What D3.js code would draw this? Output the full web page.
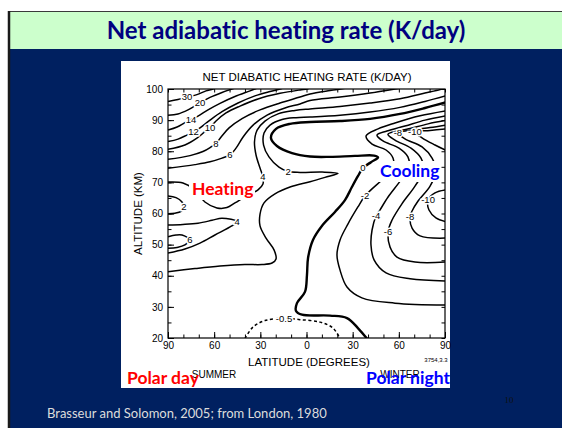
<!DOCTYPE html>
<html>
<head>
<meta charset="utf-8">
<script src="https://cdn.jsdelivr.net/npm/d3@7"></script>
<style>
  body { margin: 0; background: #fff; }
  svg { display: block; }
  text { font-variant-ligatures: none; }
</style>
</head>
<body>
<svg id="slide" width="562" height="428"></svg>
<script>
// ---- axis ticks ----
const latTicks = [-90, -60, -30, 0, 30, 60, 90];
const latMinor = d3.range(-90, 91, 10);
const altTicks = [20, 30, 40, 50, 60, 70, 80, 90, 100];
const altMinor = d3.range(20, 101, 5);

// ---- contour lines: [latitude (summer < 0 < winter), altitude km] ----
const c30 = [[-90,96],[-83.5,96.6],[-77.7,97.4],[-71.2,98.2],[-65.3,99.4],[-60.8,100],[-58,100.8]];
const c20 = [[-90,91.6],[-83.5,92],[-77,93.3],[-69.2,95.5],[-62.7,97.3],[-54.9,98.9],[-46.5,100.3]];
const c14 = [[-90,86.8],[-84.1,87.8],[-79,89.2],[-75,90.2],[-70.5,91.3],[-64,93.3],[-56.2,95.4],[-46.5,97.6],[-36.7,99.4],[-31.5,100.4]];
const c12 = [[-90,83.1],[-83.5,83.9],[-77.7,85.2],[-73.4,86.2],[-69.2,87.5],[-62.7,90],[-54.9,92.7],[-44.5,95.5],[-33.5,97.8],[-23.7,99.2],[-17.2,100],[-14,100.5]];
const c10 = [[-90,80.6],[-79,82],[-71.2,84.2],[-66,86.3],[-62.7,87.6],[-58.8,89.7],[-52.3,92.3],[-43.2,94.5],[-31.5,96.8],[-17.2,98.6],[-4.2,99.7],[0.3,100],[3,100.5]];
const c8 = [[-90,77.4],[-75.7,78.6],[-67.3,79.9],[-62,81.4],[-58.8,82.5],[-55.5,84.6],[-50.3,87.5],[-41.9,90.5],[-30.2,93.3],[-17.2,95.5],[-4.2,97.4],[2.3,98.4],[15.3,99.5],[25,100.2],[29,100.6]];
const c6 = [[-90,74.5],[-72.5,75.7],[-62.7,76.6],[-54.9,77.8],[-49.7,78.8],[-45.8,81],[-41.2,84.6],[-34.7,88.4],[-25.6,91.6],[-14,93.9],[-4.2,95.2],[2.3,96.3],[21.8,97.4],[41.3,98.7],[57.5,100],[62,100.4]];
const c4a = [[-90,70.1],[-80.3,69.8],[-72.5,67.6],[-66,63.7],[-58.2,61.8],[-51.7,61.9],[-46.5,63.4],[-38,66],[-31.5,67.6],[-28.3,69.5],[-28.3,71.7],[-30.2,74.6],[-32.8,78.8],[-33.8,83],[-32.1,86.8],[-27,89.7],[-18.5,92],[-7.5,93.1],[2.3,93.6],[21.8,94.4],[41.3,95.5],[60.8,96.9],[77,98.7],[86.8,99.8],[90.5,100.4]];
const c4b = [[-90,56.3],[-80.3,56.5],[-70.5,56.9],[-61.4,57.8],[-54.9,58.5],[-45.1,57.4],[-48.6,56],[-59.5,53.1],[-69.2,50.5],[-79,48.6],[-90,47.3]];
const c6b = [[-90,52.5],[-84.8,53.1],[-80.9,53.1],[-75.7,51.5],[-79,49.9],[-84.1,49.1],[-90,48.8]];
const c2a = [[-90,65.6],[-84.8,65.1],[-80.9,63.7],[-79.6,62.1],[-81.5,60.7],[-85.5,60.1],[-90,59.9]];
const c2b = [[-90,41.3],[-72.5,42.3],[-56.2,43.1],[-40,43.6],[-28.9,43.6],[-22.4,44.1],[-19.8,45.4],[-21.1,48.3],[-26.3,52.1],[-30.2,56],[-30.2,59.8],[-27.6,63.4],[-20.5,66.3],[-10.7,68.5],[2.3,70.2],[12,71.6],[20.5,72.9],[10.1,73.3],[-4.2,73.2],[-12,73.5],[-17.9,74.9],[-24.4,78.2],[-27.9,82],[-27.6,85.9],[-23.7,88.4],[-15.9,90.2],[-6.8,90.8],[2.3,91],[21.8,91.6],[41.3,92.6],[60.8,94.1],[77,96],[90.5,97.8]];
const c0 = [[39.3,19.8],[33.4,23.2],[26.3,26.4],[15.3,27.2],[-2.9,27.5],[-6.8,28.7],[-6.2,31.2],[-1,34.8],[0.3,40.2],[1,45.7],[4.2,51.5],[10,56],[18.5,60.5],[25,64.3],[29.5,68.5],[33.4,72],[36.7,74.6],[41.9,76.5],[46.5,78],[43.9,78.6],[31.5,78.5],[15.3,78.2],[2.3,78.3],[-9.4,79.4],[-19.2,81.7],[-23.1,84.3],[-19.8,87.2],[-10.7,88.8],[2.3,89.4],[21.8,89.7],[41.3,90.4],[60.8,92],[77,93.9],[90.5,95.7]];
const cm05 = [[-40,19.8],[-34.8,23.5],[-27,25.6],[-14.6,26.3],[-4.2,25.9],[8.8,25.1],[17.2,23.2],[21.8,19.8]];
const cm2 = [[90.5,93],[73.8,91.4],[57.5,89.1],[46.5,87.2],[38.7,84.9],[42.6,82.3],[51.7,80.4],[56.2,77.8],[56.2,74.6],[49.7,71.1],[41.9,67.6],[38,65.6],[33.4,62.1],[26.9,56.6],[21.8,51.5],[19.8,46.7],[21.8,41.8],[26.3,36.4],[36,32.9],[57.5,31.2],[90.5,30.6]];
const cm4 = [[90.5,91.4],[77,90],[64,88.1],[52.3,86.5],[45.8,85.2],[49.7,83.3],[60.1,81],[65.9,78.2],[66.6,74.9],[60.8,70.4],[53,65.3],[47.7,61.1],[45.2,59.2],[42.6,54.7],[41.9,49.9],[43.9,45.1],[51.7,40.9],[67.3,39],[90.5,38.3]];
const cm6 = [[90.5,89.9],[79,88.8],[67.3,87.3],[52.9,85.5],[57.5,83.6],[67.9,81],[74.4,77.8],[76.3,74],[70.5,68.8],[62,63.1],[55.6,57.9],[53,54.1],[54.3,49.2],[58.8,46],[70.5,44.4],[90.5,44.4]];
const cm8 = [[90.5,88.4],[80.3,87.6],[68.6,86.8],[59.4,85.9],[64,84],[75.1,81.4],[81.6,77.8],[84.1,73.7],[80.3,68.8],[72.5,64],[68.6,60.8],[67.3,58.9],[68.6,55.3],[73.8,52.8],[90.5,52.1]];
const cm10a = [[90.5,87.2],[80.3,86.7],[70.5,86.2],[75.1,84.3],[83.5,82],[91,80.2]];
const cm10b = [[91,67.6],[83.5,66.6],[79,64.3],[79.6,61.1],[84.1,58.6],[91,57.3]];

// level, points, indices of labelled points
const contours = [
  { level: 30, pts: c30, at: [2] },
  { level: 20, pts: c20, at: [3] },
  { level: 14, pts: c14, at: [3] },
  { level: 12, pts: c12, at: [3] },
  { level: 10, pts: c10, at: [4] },
  { level: 8, pts: c8, at: [4] },
  { level: 6, pts: c6, at: [4] },
  { level: 4, pts: c4a, at: [10] },
  { level: 4, pts: c4b, at: [5] },
  { level: 6, pts: c6b, at: [3] },
  { level: 2, pts: c2a, at: [3] },
  { level: 2, pts: c2b, at: [19] },
  { level: 0, pts: c0, at: [16] },
  { level: -0.5, pts: cm05, at: [3] },
  { level: -2, pts: cm2, at: [11] },
  { level: -4, pts: cm4, at: [12] },
  { level: -6, pts: cm6, at: [11] },
  { level: -8, pts: cm8, at: [3, 11] },
  { level: -10, pts: cm10a, at: [2] },
  { level: -10, pts: cm10b, at: [2] }
];

const svg = d3.select("#slide");

// ---- slide background ----
svg.append("rect").attr("x", 0).attr("y", 0).attr("width", 562).attr("height", 428).attr("fill", "#ffffff");
svg.append("rect").attr("x", 9).attr("y", 11).attr("width", 553).attr("height", 417).attr("fill", "#002060");
svg.append("rect").attr("x", 9).attr("y", 11).attr("width", 553).attr("height", 38).attr("fill", "#ccffcc");
svg.append("line").attr("x1", 9).attr("x2", 562).attr("y1", 11.5).attr("y2", 11.5).attr("stroke", "#3a3a3a").attr("stroke-width", 1);
svg.append("line").attr("x1", 9).attr("x2", 9).attr("y1", 11).attr("y2", 428).attr("stroke", "#1a1a1a").attr("stroke-width", 2.5);

svg.append("text")
  .attr("x", 286).attr("y", 39)
  .attr("text-anchor", "middle")
  .attr("font-family", "Lato, 'Open Sans', sans-serif")
  .attr("font-weight", "bold").attr("font-size", 24)
  .attr("fill", "#000080")
  .text("Net adiabatic heating rate (K/day)");

svg.append("text")
  .attr("x", 47).attr("y", 418)
  .attr("font-family", "Lato, 'Open Sans', sans-serif")
  .attr("font-size", 13).attr("fill", "#dcdcdc")
  .text("Brasseur and Solomon, 2005; from London, 1980");

svg.append("text")
  .attr("x", 509).attr("y", 403).attr("text-anchor", "middle")
  .attr("font-family", "'Liberation Serif', serif")
  .attr("font-size", 9).attr("fill", "#111111")
  .text("10");

// ---- white figure panel ----
svg.append("rect").attr("x", 121).attr("y", 61).attr("width", 329).attr("height", 327).attr("fill", "#ffffff");

const x = d3.scaleLinear().domain([-90, 90]).range([168, 445]);
const y = d3.scaleLinear().domain([20, 100]).range([338, 89]);
const font = "'Liberation Sans', Arial, sans-serif";

svg.append("defs").append("clipPath").attr("id", "plotclip")
  .append("rect").attr("x", 168).attr("y", 89).attr("width", 277).attr("height", 249);

const plot = svg.append("g").attr("clip-path", "url(#plotclip)");

const line = d3.line()
  .x(d => x(d[0])).y(d => y(d[1]))
  .curve(d3.curveCatmullRom.alpha(0.5));

plot.selectAll("path.contour")
  .data(contours)
  .join("path")
  .attr("class", "contour")
  .attr("d", d => line(d.pts))
  .attr("fill", "none")
  .attr("stroke", "#000")
  .attr("stroke-width", d => d.level === 0 ? 2.4 : 1.5)
  .attr("stroke-dasharray", d => d.level === -0.5 ? "3,2.5" : null)
  .attr("stroke-linejoin", "round");

// contour value labels, knocked out of the line with a white halo
const labelData = contours.flatMap(c => c.at.map(i => ({ level: c.level, p: c.pts[i] })));
plot.selectAll("text.clabel")
  .data(labelData)
  .join("text")
  .attr("class", "clabel")
  .attr("x", d => x(d.p[0])).attr("y", d => y(d.p[1]))
  .attr("dy", "0.35em")
  .attr("text-anchor", "middle")
  .attr("font-family", font).attr("font-size", 9.5)
  .attr("stroke", "#fff").attr("stroke-width", 3).attr("paint-order", "stroke")
  .attr("fill", "#000")
  .text(d => String(d.level));

// ---- axes ----
function styleAxis(g) {
  g.select(".domain").remove();
  g.selectAll("line").attr("stroke", "#000").attr("stroke-width", 1);
  g.selectAll("text").attr("font-family", font).attr("font-size", 10).attr("fill", "#000");
}

svg.append("g").attr("transform", "translate(0,338)")
  .call(d3.axisBottom(x).tickValues(latMinor).tickSize(-3.5).tickFormat(""))
  .call(styleAxis);
svg.append("g").attr("transform", "translate(0,338)")
  .call(d3.axisBottom(x).tickValues(latTicks).tickSize(-6).tickPadding(4).tickFormat(d => Math.abs(d)))
  .call(styleAxis);
svg.append("g").attr("transform", "translate(0,89)")
  .call(d3.axisTop(x).tickValues(latMinor).tickSize(-3.5).tickFormat(""))
  .call(styleAxis);
svg.append("g").attr("transform", "translate(168,0)")
  .call(d3.axisLeft(y).tickValues(altMinor).tickSize(-3.5).tickFormat(""))
  .call(styleAxis);
svg.append("g").attr("transform", "translate(168,0)")
  .call(d3.axisLeft(y).tickValues(altTicks).tickSize(-6).tickPadding(5))
  .call(styleAxis);
svg.append("g").attr("transform", "translate(445,0)")
  .call(d3.axisRight(y).tickValues(altMinor).tickSize(-3.5).tickFormat(""))
  .call(styleAxis);

svg.append("rect").attr("x", 168).attr("y", 89).attr("width", 277).attr("height", 249)
  .attr("fill", "none").attr("stroke", "#000").attr("stroke-width", 1.2);

svg.append("text").attr("x", 307).attr("y", 81).attr("text-anchor", "middle")
  .attr("font-family", font).attr("font-size", 11.5).text("NET DIABATIC HEATING RATE (K/DAY)");
svg.append("text").attr("x", 309).attr("y", 366).attr("text-anchor", "middle")
  .attr("font-family", font).attr("font-size", 11.5).text("LATITUDE (DEGREES)");
svg.append("text").attr("transform", "translate(142,213.5) rotate(-90)").attr("text-anchor", "middle")
  .attr("font-family", font).attr("font-size", 11.5).text("ALTITUDE (KM)");
svg.append("text").attr("x", 436).attr("y", 362).attr("text-anchor", "middle")
  .attr("font-family", font).attr("font-size", 6).text("3754,3.3");
svg.append("text").attr("x", 214).attr("y", 378).attr("text-anchor", "middle")
  .attr("font-family", font).attr("font-size", 10).text("SUMMER");
svg.append("text").attr("x", 400).attr("y", 378).attr("text-anchor", "middle")
  .attr("font-family", font).attr("font-size", 10).text("WINTER");

// ---- annotations ----
const ann = "Lato, 'Open Sans', sans-serif";
svg.append("rect").attr("x", 189).attr("y", 179).attr("width", 66).attr("height", 21).attr("fill", "#fff");
svg.append("rect").attr("x", 377).attr("y", 161).attr("width", 64).attr("height", 21).attr("fill", "#fff");
svg.append("text").attr("x", 192).attr("y", 195).attr("font-family", ann).attr("font-weight", "bold")
  .attr("font-size", 17.5).attr("fill", "#ff0000").text("Heating");
svg.append("text").attr("x", 380).attr("y", 177).attr("font-family", ann).attr("font-weight", "bold")
  .attr("font-size", 17.5).attr("fill", "#0000ff").text("Cooling");
svg.append("text").attr("x", 127).attr("y", 384).attr("font-family", ann).attr("font-weight", "bold")
  .attr("font-size", 17.5).attr("fill", "#ff0000").text("Polar day");
svg.append("text").attr("x", 366).attr("y", 384).attr("font-family", ann).attr("font-weight", "bold")
  .attr("font-size", 17.5).attr("fill", "#0000ff").text("Polar night");
</script>
</body>
</html>
